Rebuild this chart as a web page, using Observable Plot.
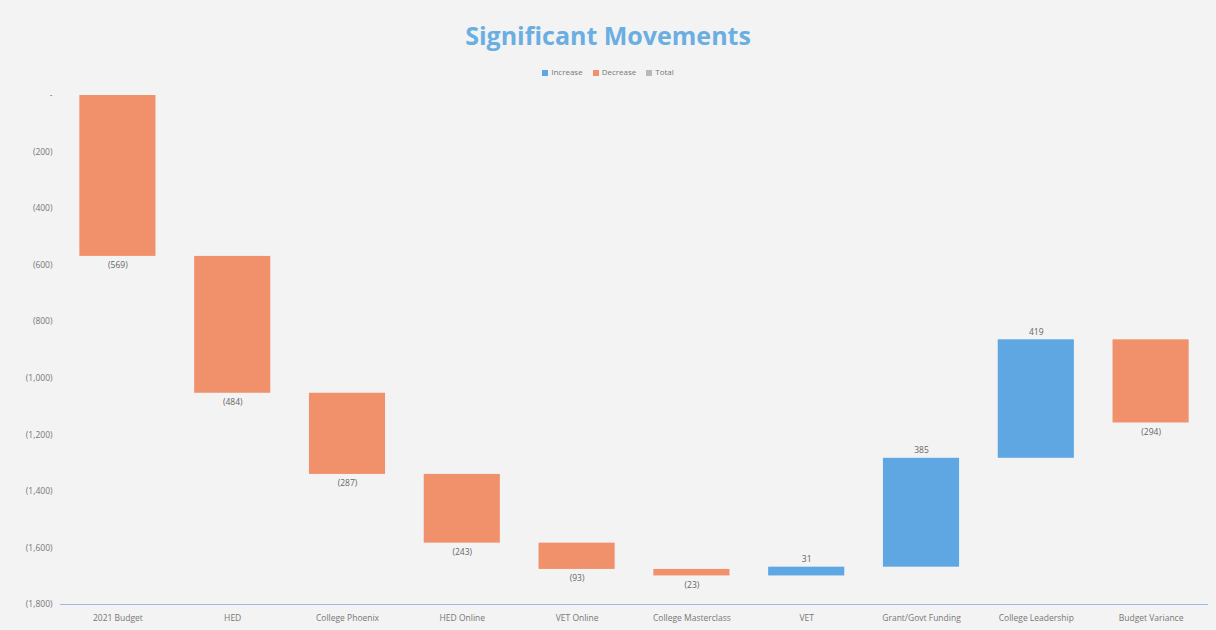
<!DOCTYPE html>
<html>
<head>
<meta charset="utf-8">
<script src="https://cdn.jsdelivr.net/npm/d3@7"></script>
<script src="https://cdn.jsdelivr.net/npm/@observablehq/plot@0.6"></script>
<style>
  html, body { margin: 0; padding: 0; }
  body { width: 1216px; height: 630px; background: #f3f3f3; font-family: "Open Sans", sans-serif; overflow: hidden; }
  #wrap { position: relative; width: 1216px; height: 630px; }
  #title { position: absolute; left: 0; top: 18px; width: 1216px; text-align: center; font-size: 25px; font-weight: bold; color: #6aaee2; }
  #legend { position: absolute; left: 0; top: 66px; width: 1216px; text-align: center; font-size: 8px; color: #777; }
  #legend span.item { margin: 0 5px; }
  #legend span.sw { display: inline-block; width: 6px; height: 6px; margin-right: 3px; vertical-align: -0.5px; }
  #chart { position: absolute; left: 0; top: 85px; }
</style>
</head>
<body>
<div id="wrap">
  <div id="title">Significant Movements</div>
  <div id="legend"></div>
  <div id="chart"></div>
</div>
<script>
const categories = ["2021 Budget", "HED", "College Phoenix", "HED Online", "VET Online", "College Masterclass", "VET", "Grant/Govt Funding", "College Leadership", "Budget Variance"];
const changes = [-569, -484, -287, -243, -93, -23, 31, 385, 419, -294];
const yTicks = [0, -200, -400, -600, -800, -1000, -1200, -1400, -1600, -1800];
const legendItems = ["Increase", "Decrease", "Total"];
const legendColors = ["#5ea7e3", "#f0916b", "#b8b8b8"];

const fmt = v => v === 0 ? "-" : (v < 0 ? `(${d3.format(",")(-v)})` : d3.format(",")(v));

let run = 0;
const rows = categories.map((c, i) => {
  const start = run;
  run += changes[i];
  return { cat: c, start, end: run, value: changes[i], type: changes[i] >= 0 ? "Increase" : "Decrease" };
});

const legend = document.getElementById("legend");
legend.innerHTML = legendItems.map((t, i) =>
  `<span class="item"><span class="sw" style="background:${legendColors[i]}"></span>${t}</span>`).join("");

const chart = Plot.plot({
  width: 1216,
  height: 545,
  marginLeft: 60,
  marginRight: 8,
  marginTop: 10,
  marginBottom: 26,
  style: { background: "transparent", fontFamily: "Open Sans, sans-serif", color: "#777" },
  x: { domain: categories, paddingInner: 0.337, paddingOuter: 0.1685, round: false, label: null, tickSize: 0, tickPadding: 10 },
  y: { domain: [-1800, 0], ticks: yTicks, tickFormat: fmt, label: null, tickSize: 0, tickPadding: 8 },
  color: { domain: legendItems, range: legendColors },
  marks: [
    Plot.axisY({ ticks: yTicks, tickFormat: fmt, tickSize: 0, tickPadding: 8, fontSize: 8.5, fill: "#777", label: null }),
    Plot.axisX({ tickSize: 0, tickPadding: 10, fontSize: 8.5, fill: "#777", label: null }),
    Plot.barY(rows, { x: "cat", y1: "start", y2: "end", fill: "type" }),
    Plot.ruleY([-1800], { stroke: "#9dbcdb", strokeWidth: 1.2 }),
    Plot.text(rows.filter(d => d.value < 0), { x: "cat", y: "end", text: d => fmt(d.value), dy: 9, fontSize: 8.5, fill: "#666" }),
    Plot.text(rows.filter(d => d.value >= 0), { x: "cat", y: "end", text: d => fmt(d.value), dy: -8, fontSize: 8.5, fill: "#666" })
  ]
});
document.getElementById("chart").appendChild(chart);
</script>
</body>
</html>
